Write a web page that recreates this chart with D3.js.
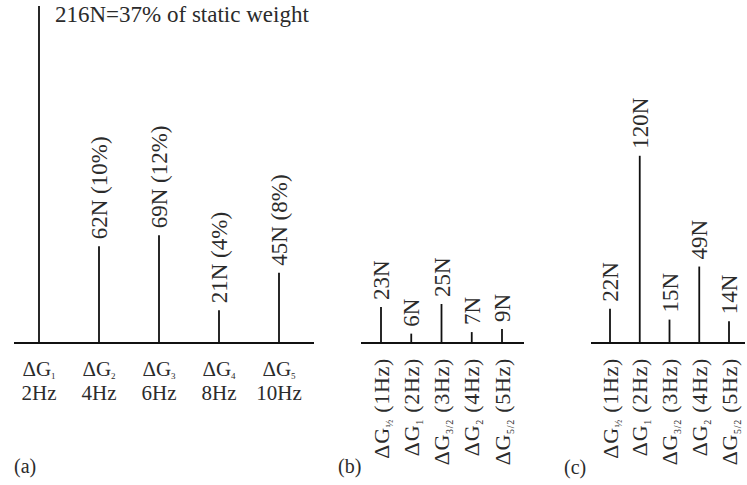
<!DOCTYPE html>
<html>
<head>
<meta charset="utf-8">
<script src="https://cdn.jsdelivr.net/npm/d3@7"></script>
<style>
  html, body { margin: 0; padding: 0; background: #fff; }
  svg text { font-family: "Liberation Serif", "Times New Roman", serif; fill: #2b2b2b; }
</style>
</head>
<body>
<svg id="chart" width="747" height="485"></svg>
<script>
// Panel (a): harmonic components of the dynamic load at walking frequency 2 Hz
const catsA = ["ΔG1", "ΔG2", "ΔG3", "ΔG4", "ΔG5"];
const subsA = ["1", "2", "3", "4", "5"];
const freqA = ["2Hz", "4Hz", "6Hz", "8Hz", "10Hz"];
const valsA = [216, 62, 69, 21, 45];
const textA = ["216N=37% of static weight", "62N (10%)", "69N (12%)", "21N (4%)", "45N (8%)"];

// Panel (b)
const catsB = ["b1", "b2", "b3", "b4", "b5"];
const subsB = ["½", "1", "3/2", "2", "5/2"];
const freqB = ["(1Hz)", "(2Hz)", "(3Hz)", "(4Hz)", "(5Hz)"];
const valsB = [23, 6, 25, 7, 9];

// Panel (c)
const catsC = ["c1", "c2", "c3", "c4", "c5"];
const subsC = ["½", "1", "3/2", "2", "5/2"];
const freqC = ["(1Hz)", "(2Hz)", "(3Hz)", "(4Hz)", "(5Hz)"];
const valsC = [22, 120, 15, 49, 14];

const svg = d3.select("#chart");
const baseY = 343;

// One force scale shared by all three panels
const h = d3.scaleLinear().domain([0, 216]).range([0, 337]);

function stems(g, cats, vals, x) {
  g.selectAll("line.stem").data(cats).join("line")
    .attr("class", "stem")
    .attr("x1", d => x(d)).attr("x2", d => x(d))
    .attr("y1", baseY).attr("y2", (d, i) => baseY - h(vals[i]))
    .attr("stroke", "#111").attr("stroke-width", 1.8);
}

function baseline(g, x0, x1) {
  g.append("line")
    .attr("x1", x0).attr("x2", x1).attr("y1", baseY).attr("y2", baseY)
    .attr("stroke", "#111").attr("stroke-width", 1.8);
}

function valueLabels(g, cats, vals, texts, x, size) {
  g.selectAll("text.val").data(cats).join("text")
    .attr("class", "val")
    .attr("transform", (d, i) => `translate(${x(d)},${baseY - h(vals[i]) - 7}) rotate(-90)`)
    .attr("dy", "0.35em")
    .attr("font-size", size)
    .text((d, i) => texts[i]);
}

function rotatedCategoryLabels(g, cats, subs, freqs, x) {
  const t = g.selectAll("text.cat").data(cats).join("text")
    .attr("class", "cat")
    .attr("transform", d => `translate(${x(d)},${baseY + 15}) rotate(-90)`)
    .attr("dy", "0.35em")
    .attr("text-anchor", "end")
    .attr("letter-spacing", 0.7)
    .attr("font-size", 22);
  t.append("tspan").text("ΔG");
  t.append("tspan").attr("font-size", 10).attr("dy", 4).text((d, i) => subs[i]);
  t.append("tspan").attr("dy", -4).text((d, i) => "\u00a0" + freqs[i]);
}

// ---- panel (a)
const gA = svg.append("g");
const xA = d3.scalePoint().domain(catsA).range([39, 279]);
baseline(gA, 14, 314);
stems(gA, catsA, valsA, xA);
gA.append("text").attr("x", 55).attr("y", 22).attr("font-size", 23).text(textA[0]);
valueLabels(gA, catsA.slice(1), valsA.slice(1), textA.slice(1), xA, 23);
const labA = gA.selectAll("text.cat").data(catsA).join("text")
  .attr("class", "cat").attr("text-anchor", "middle").attr("font-size", 21);
labA.append("tspan").attr("x", d => xA(d)).attr("y", 376).text("ΔG");
labA.append("tspan").attr("font-size", 9).attr("dy", 2.5).text((d, i) => subsA[i]);
labA.append("tspan").attr("x", d => xA(d)).attr("y", 400).text((d, i) => freqA[i]);
gA.append("text").attr("x", 14).attr("y", 473).attr("font-size", 20).text("(a)");

// ---- panel (b)
const gB = svg.append("g");
const xB = d3.scalePoint().domain(catsB).range([381, 502]);
baseline(gB, 361, 524);
stems(gB, catsB, valsB, xB);
valueLabels(gB, catsB, valsB, valsB.map(v => v + "N"), xB, 23);
rotatedCategoryLabels(gB, catsB, subsB, freqB, xB);
gB.append("text").attr("x", 338).attr("y", 473).attr("font-size", 20).text("(b)");

// ---- panel (c)
const gC = svg.append("g");
const xC = d3.scalePoint().domain(catsC).range([610, 729]);
baseline(gC, 591, 745);
stems(gC, catsC, valsC, xC);
valueLabels(gC, catsC, valsC, valsC.map(v => v + "N"), xC, 23);
rotatedCategoryLabels(gC, catsC, subsC, freqC, xC);
gC.append("text").attr("x", 564).attr("y", 474).attr("font-size", 20).text("(c)");
</script>
</body>
</html>
